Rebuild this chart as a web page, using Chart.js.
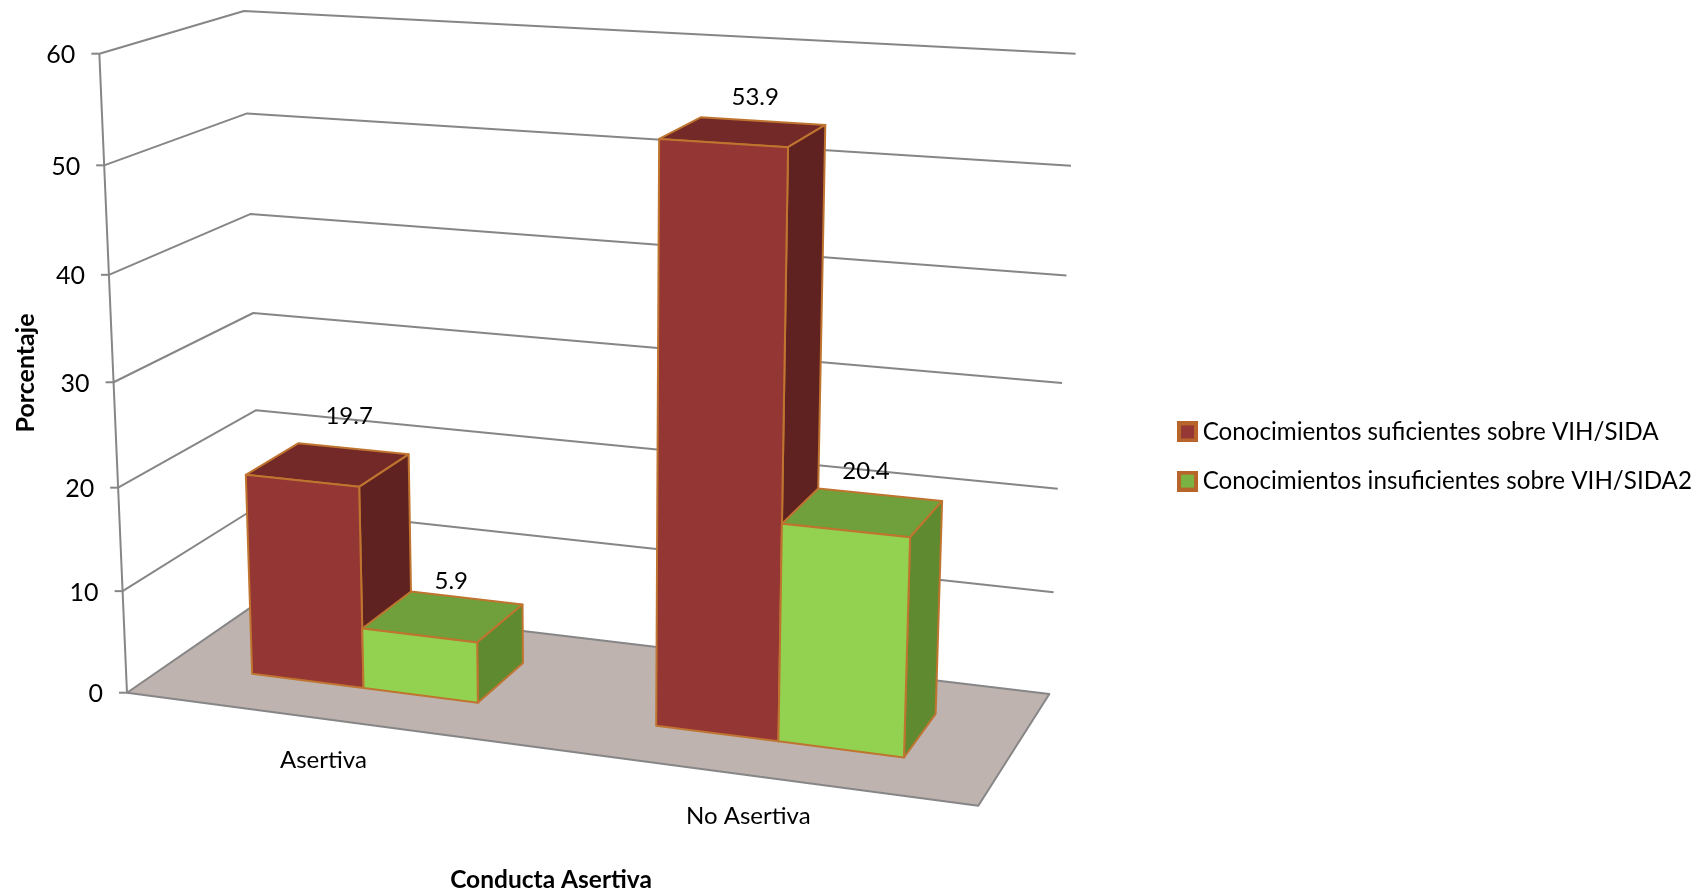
<!DOCTYPE html>
<html><head><meta charset="utf-8">
<style>html,body{margin:0;padding:0;background:#fff}canvas{display:block}</style>
<script src="https://cdn.jsdelivr.net/npm/chart.js@4"></script>
</head><body>
<canvas id="c" width="1700" height="892"></canvas>
<script>
const categories = ['Asertiva', 'No Asertiva'];
const seriesNames = ['Conocimientos suficientes sobre VIH/SIDA', 'Conocimientos insuficientes sobre VIH/SIDA2'];
const suficientes = [19.7, 53.9];
const insuficientes = [5.9, 20.4];
const yTitle = 'Porcentaje';
const xTitle = 'Conducta Asertiva';
const FONT = 'Lato, Carlito, sans-serif';
const TEXT = '#000000', GRID = '#868686', EDGE = '#BF742F', FLOOR = '#BFB3B0';
const redFaces = {front:'#943634', top:'#722927', side:'#602220', swatch:'#953735'};
const greenFaces = {front:'#92D250', top:'#70A03C', side:'#5F8A30', swatch:'#7BB342'};
const faces = [redFaces, greenFaces];
// label nudges relative to the centre of each box's top face [dataset][category]
const labelNudge = [[[21,-48],[12,-35]],[[8,-35],[3,-41]]];

// Perspective camera: one corner of the chart's box, three edge ends, three vanishing points
const O={x:127,y:692.7}, U={x:978.3,y:806.7}, V={x:99.3,y:53.7}, D={x:262,y:599.7};
const Vu={x:-8327,y:-430}, Vv={x:601,y:11646}, Vd={x:1771,y:-440};
const ka=(U.x-O.x)/(Vu.x-U.x), kb=(V.y-O.y)/(Vv.y-V.y), kc=(D.x-O.x)/(Vd.x-D.x);
function project(u,v,d){
  const a=u*ka,b=v*kb,c=d*kc,w=1+a+b+c;
  return {x:(O.x+a*Vu.x+b*Vv.x+c*Vd.x)/w, y:(O.y+a*Vu.y+b*Vv.y+c*Vd.y)/w};
}
const BAR_D0=0.3, BAR_D1=0.7;

function poly(ctx,pts,fill,stroke,lw){
  ctx.beginPath();
  pts.forEach((p,i)=>i?ctx.lineTo(p.x,p.y):ctx.moveTo(p.x,p.y));
  ctx.closePath();
  if(fill){ctx.fillStyle=fill;ctx.fill();}
  if(stroke){ctx.strokeStyle=stroke;ctx.lineWidth=lw;ctx.lineJoin='round';ctx.stroke();}
}
function line(ctx,pts,color,lw){
  ctx.beginPath();
  pts.forEach((p,i)=>i?ctx.lineTo(p.x,p.y):ctx.moveTo(p.x,p.y));
  ctx.strokeStyle=color;ctx.lineWidth=lw;ctx.lineJoin='round';ctx.stroke();
}
function swatch(fill){
  const c=document.createElement('canvas');c.width=21;c.height=21;
  const g=c.getContext('2d');
  g.fillStyle='#B8652B';g.fillRect(0,0,21,21);
  g.fillStyle=fill;g.fillRect(4,4,13,13);
  return c;
}

const box3d={
  id:'box3d',
  beforeDatasetsDraw(chart){
    const ctx=chart.ctx, area=chart.chartArea, ys=chart.scales.y, xs=chart.scales.x;
    const U_=px=>(px-area.left)/area.width;
    const V_=py=>(area.bottom-py)/area.height;
    ctx.save();
    // floor
    poly(ctx,[project(0,0,0),project(1,0,0),project(1,0,1),project(0,0,1)],FLOOR,GRID,2);
    // grid on side wall and back wall
    ys.ticks.forEach(t=>{
      const v=V_(ys.getPixelForValue(t.value));
      if(t.value>0) line(ctx,[project(0,v,0),project(0,v,1),project(1,v,1)],GRID,2);
      const p=project(0,v,0);
      line(ctx,[{x:p.x-8,y:p.y},p],GRID,2);
      ctx.fillStyle=TEXT;ctx.font='25px '+FONT;ctx.textAlign='right';ctx.textBaseline='middle';
      ctx.fillText(t.label,p.x-24,p.y+1.5);
    });
    line(ctx,[project(0,0,0),project(0,1,0)],GRID,2);
    // boxes
    const labels=[];
    categories.forEach((cat,j)=>{
      chart.data.datasets.forEach((ds,i)=>{
        const el=chart.getDatasetMeta(i).data[j];
        const u0=U_(el.x-el.width/2),u1=U_(el.x+el.width/2),v=V_(el.y),v0=V_(el.base);
        const f=faces[i], d0=BAR_D0, d1=BAR_D1;
        poly(ctx,[project(u0,v,d0),project(u1,v,d0),project(u1,v,d1),project(u0,v,d1)],f.top,EDGE,2);
        poly(ctx,[project(u1,v0,d0),project(u1,v,d0),project(u1,v,d1),project(u1,v0,d1)],f.side,EDGE,2);
        poly(ctx,[project(u0,v0,d0),project(u1,v0,d0),project(u1,v,d0),project(u0,v,d0)],f.front,EDGE,2);
        const c=project((u0+u1)/2,v,(d0+d1)/2), n=labelNudge[i][j];
        labels.push({t:ds.data[j].toFixed(1),x:c.x+n[0],y:c.y+n[1]});
      });
    });
    ctx.fillStyle=TEXT;ctx.font='24px '+FONT;ctx.textAlign='center';ctx.textBaseline='middle';
    labels.forEach(l=>ctx.fillText(l.t,l.x,l.y));
    // category labels
    xs.ticks.forEach((t,k)=>{
      const p=project(U_(xs.getPixelForTick(k)),0,0);
      ctx.fillText(xs.getLabelForValue(t.value),p.x-1.5,p.y+41);
    });
    // axis titles
    ctx.font='bold 24.5px '+FONT;
    ctx.fillText(xTitle,551,880);
    ctx.font='bold 25px '+FONT;
    ctx.translate(26,373);ctx.rotate(-Math.PI/2);ctx.fillText(yTitle,0,0);
    ctx.restore();
    return false;
  }
};

new Chart(document.getElementById('c'),{
  type:'bar',
  data:{labels:categories,datasets:[
    {label:seriesNames[0],data:suficientes,backgroundColor:redFaces.front,borderColor:EDGE},
    {label:seriesNames[1],data:insuficientes,backgroundColor:greenFaces.front,borderColor:EDGE}
  ]},
  options:{
    responsive:false,animation:false,
    layout:{padding:{top:21,right:-2,left:0,bottom:0}},
    datasets:{bar:{categoryPercentage:0.57,barPercentage:1}},
    scales:{
      x:{display:false},
      y:{display:false,min:0,max:60,ticks:{stepSize:10}}
    },
    plugins:{
      tooltip:{enabled:false},
      legend:{
        position:'right',
        labels:{
          color:TEXT,font:{family:FONT,size:24.2},padding:25,
          usePointStyle:true,pointStyleWidth:6,boxHeight:6,
          generateLabels(chart){
            return chart.data.datasets.map((ds,i)=>({text:ds.label,fontColor:TEXT,datasetIndex:i,pointStyle:swatch(faces[i].swatch),hidden:false,lineWidth:0,strokeStyle:'transparent',fillStyle:faces[i].swatch}));
          }
        }
      }
    }
  },
  plugins:[box3d]
});
</script>
</body></html>
